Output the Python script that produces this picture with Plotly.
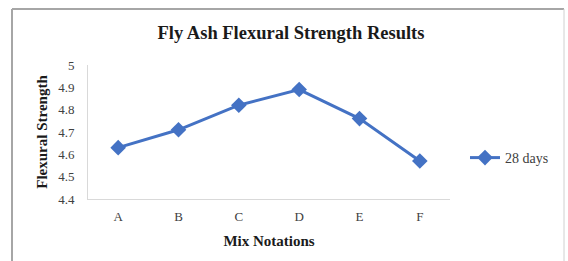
import plotly.graph_objects as go

categories = ["A", "B", "C", "D", "E", "F"]
values_28 = [4.63, 4.71, 4.82, 4.89, 4.76, 4.57]
series_name = "28 days"
y_ticks = [4.4, 4.5, 4.6, 4.7, 4.8, 4.9, 5]
y_tick_labels = ["4.4", "4.5", "4.6", "4.7", "4.8", "4.9", "5"]

W, H = 568, 261
L, R, T, B = 88, 118, 65, 62
pw, ph = W - L - R, H - T - B

def px(x):
    return (x - L) / pw

def py(y):
    return (H - B - y) / ph

fig = go.Figure()
fig.add_trace(go.Scatter(
    x=categories, y=values_28, name=series_name,
    mode="lines+markers",
    line=dict(color="#4472C4", width=3),
    marker=dict(symbol="diamond", size=12, color="#4472C4"),
))

fig.update_layout(
    width=W, height=H,
    margin=dict(l=L, r=R, t=T, b=B),
    paper_bgcolor="white", plot_bgcolor="white",
    font=dict(family="Liberation Serif, Times New Roman, serif", color="#404040"),
    title=dict(text="<b>Fly Ash Flexural Strength Results</b>",
               x=px(291), xanchor="center", xref="paper",
               y=1 - 33 / H, yanchor="middle", yref="container",
               font=dict(size=18.5, color="#1a1a1a")),
    showlegend=True,
    legend=dict(x=px(465), y=py(158), xanchor="left", yanchor="middle",
                font=dict(size=14, color="#404040"), bgcolor="rgba(0,0,0,0)"),
    xaxis=dict(type="category", showline=True, linecolor="#D9D9D9", linewidth=1,
               showgrid=False, ticks="", tickfont=dict(size=13),
               ticklabelstandoff=5,
               range=[-0.5, 5.5],
               title=dict(text="<b>Mix Notations</b>", font=dict(size=15, color="#1a1a1a"), standoff=12)),
    yaxis=dict(range=[4.4, 5.0], tickvals=y_ticks, ticktext=y_tick_labels,
               showline=True, linecolor="#D9D9D9", linewidth=1, showgrid=False,
               ticks="", tickfont=dict(size=13), zeroline=False,
               ticklabelstandoff=10,
               title=dict(text="<b>Flexural Strength</b>", font=dict(size=15, color="#1a1a1a"), standoff=6)),
)

border = dict(color="#A6A6A6", width=2)
fig.add_shape(type="line", xref="paper", yref="paper",
              x0=px(12), x1=px(12), y0=py(261), y1=py(9), line=border)
fig.add_shape(type="line", xref="paper", yref="paper",
              x0=px(12), x1=px(564), y0=py(9), y1=py(9), line=border)
fig.add_shape(type="line", xref="paper", yref="paper",
              x0=px(564), x1=px(564), y0=py(261), y1=py(9),
              line=dict(color="#D0D0D0", width=1))

fig.write_html("out.html", config={"displayModeBar": False},
               post_script="document.body.style.margin='0';")
